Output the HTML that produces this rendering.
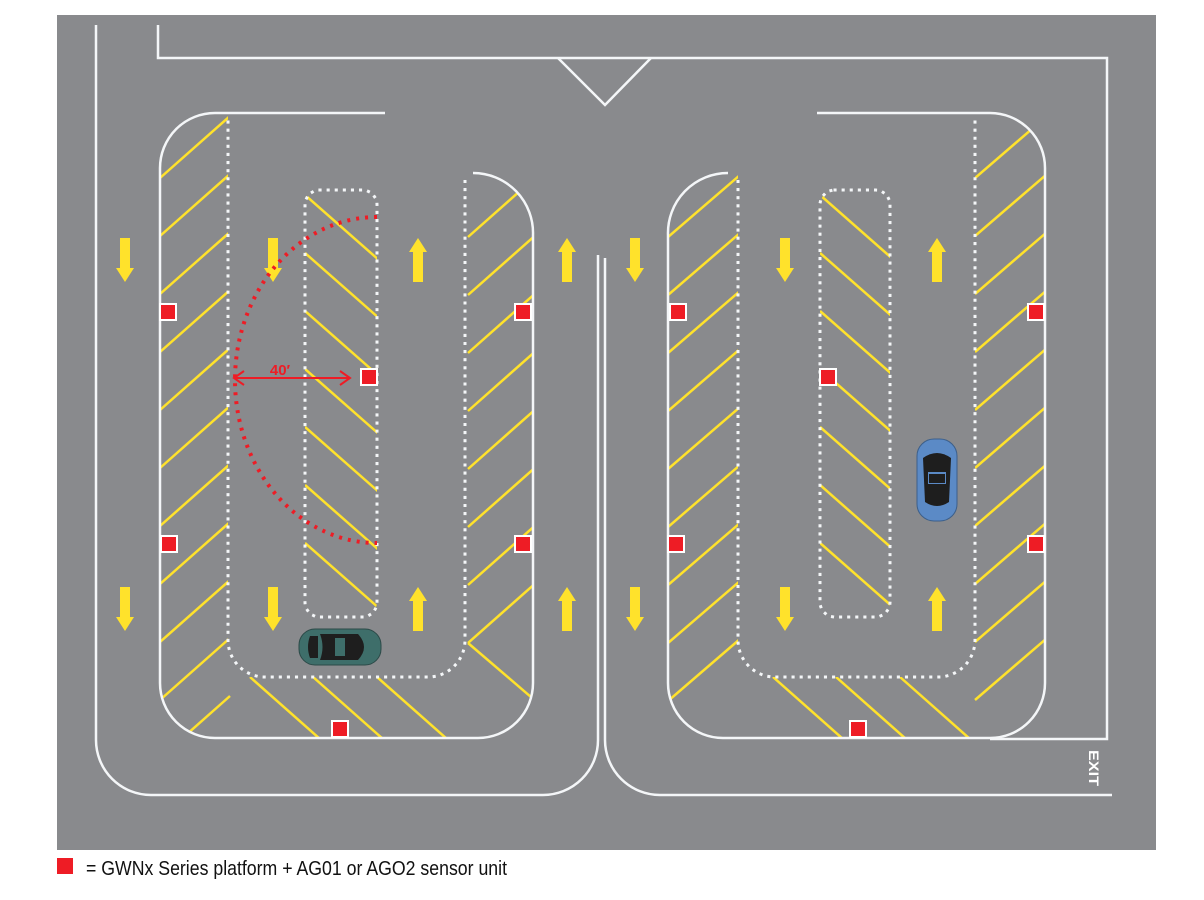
<!DOCTYPE html>
<html><head><meta charset="utf-8"><style>
html,body{margin:0;padding:0;background:#fff;width:1204px;height:900px;overflow:hidden}
</style></head><body>
<svg width="1204" height="900" viewBox="0 0 1204 900" xmlns="http://www.w3.org/2000/svg">
<defs>
<clipPath id="cL"><path d="M160,115 H228 V738 H160 Z M228,677 H533 V738 H228 Z M465,170 H533 V738 H465 Z"/></clipPath>
<clipPath id="cR"><path d="M668,170 H738 V738 H668 Z M738,677 H1045 V738 H738 Z M975,115 H1045 V738 H975 Z"/></clipPath>
<clipPath id="bL"><path d="M215,113 H385 V173 H473 A60,60 0 0 1 533,235 V683 A55,55 0 0 1 478,738 H215 A55,55 0 0 1 160,683 V168 A55,55 0 0 1 215,113 Z"/></clipPath>
<clipPath id="bR"><path d="M817,113 H990 A55,55 0 0 1 1045,168 V683 A55,55 0 0 1 990,738 H723 A55,55 0 0 1 668,683 V235 A60,60 0 0 1 728,173 H817 Z"/></clipPath>
<clipPath id="iL"><rect x="305" y="190" width="72" height="427" rx="15"/></clipPath>
<clipPath id="iR"><rect x="820" y="190" width="70" height="427" rx="15"/></clipPath>
<g id="arD"><path d="M-5,0 H5 V30 H9 L0,44 L-9,30 H-5 Z" fill="#ffe22b"/></g>
<g id="arU"><path d="M-5,44 H5 V14 H9 L0,0 L-9,14 H-5 Z" fill="#ffe22b"/></g>
<g id="sen"><rect x="-9" y="-9" width="18" height="18" fill="#fff"/><rect x="-7" y="-7" width="14" height="14" fill="#ee1c25"/></g>
</defs>
<rect x="57" y="15" width="1099" height="835" fill="#898a8d"/>

<!-- yellow stripes -->
<g stroke="#ffe22b" stroke-width="2.5">
<g clip-path="url(#bL)"><g clip-path="url(#cL)">
<path d="M160,178 l70,-62 M160,236 l70,-62 M160,294 l70,-62 M160,352 l70,-62 M160,410 l70,-62 M160,468 l70,-62 M160,526 l70,-62 M160,584 l70,-62 M160,642 l70,-62 M160,700 l70,-62 M160,758 l70,-62"/>
<path d="M468,237 l70,-62 M468,295 l70,-62 M468,353 l70,-62 M468,411 l70,-62 M468,469 l70,-62 M468,527 l70,-62 M468,585 l70,-62 M468,643 l70,-62"/>
<path d="M468,643 l70,60 M250,677 l70,62 M313,677 l70,62 M377,677 l70,62"/>
</g></g>
<g clip-path="url(#iL)">
<path d="M305,195 l75,66 M305,253 l75,66 M305,311 l75,66 M305,369 l75,66 M305,427 l75,66 M305,485 l75,66 M305,543 l75,66"/>
</g>
<g clip-path="url(#bR)"><g clip-path="url(#cR)">
<path d="M668,237 l72,-62 M668,295 l72,-62 M668,353 l72,-62 M668,411 l72,-62 M668,469 l72,-62 M668,527 l72,-62 M668,585 l72,-62 M668,643 l72,-62 M668,701 l72,-62"/>
<path d="M975,178 l72,-62 M975,236 l72,-62 M975,294 l72,-62 M975,352 l72,-62 M975,410 l72,-62 M975,468 l72,-62 M975,526 l72,-62 M975,584 l72,-62 M975,642 l72,-62 M975,700 l72,-62"/>
<path d="M773,677 l70,62 M836,677 l70,62 M900,677 l70,62"/>
</g></g>
<g clip-path="url(#iR)">
<path d="M820,195 l75,66 M820,253 l75,66 M820,311 l75,66 M820,369 l75,66 M820,427 l75,66 M820,485 l75,66 M820,543 l75,66"/>
</g>
</g>

<!-- white lines -->
<g fill="none" stroke="#f4f6f8" stroke-width="2.5">
<path d="M96,25 V740 A55,55 0 0 0 151,795 H543 A55,55 0 0 0 598,740 V255"/>
<path d="M158,25 V58 H1107 V739 H990"/>
<path d="M558,58 L605,105 L651,58"/>
<path d="M605,258 V740 A55,55 0 0 0 660,795 H1112"/>
<path d="M385,113 H215 A55,55 0 0 0 160,168 V683 A55,55 0 0 0 215,738 H478 A55,55 0 0 0 533,683 V235 A60,60 0 0 0 473,173"/>
<path d="M817,113 H990 A55,55 0 0 1 1045,168 V683 A55,55 0 0 1 990,738 H723 A55,55 0 0 1 668,683 V235 A60,60 0 0 1 728,173"/>
</g>
<g fill="none" stroke="#f4f6f8" stroke-width="3" stroke-dasharray="0.1 8" stroke-linecap="square">
<path d="M228,122 V640 A37,37 0 0 0 265,677 H428 A37,37 0 0 0 465,640 V175"/>
<rect x="305" y="190" width="72" height="427" rx="15"/>
<path d="M975,122 V640 A37,37 0 0 1 938,677 H775 A37,37 0 0 1 738,640 V175"/>
<rect x="820" y="190" width="70" height="427" rx="15"/>
</g>

<!-- arrows -->
<use href="#arD" x="125" y="238"/><use href="#arD" x="125" y="587"/>
<use href="#arD" x="273" y="238"/><use href="#arD" x="273" y="587"/>
<use href="#arU" x="418" y="238"/><use href="#arU" x="418" y="587"/>
<use href="#arU" x="567" y="238"/><use href="#arU" x="567" y="587"/>
<use href="#arD" x="635" y="238"/><use href="#arD" x="635" y="587"/>
<use href="#arD" x="785" y="238"/><use href="#arD" x="785" y="587"/>
<use href="#arU" x="937" y="238"/><use href="#arU" x="937" y="587"/>

<!-- red range -->
<path d="M377,217 A142,163 0 0 0 377,543" fill="none" stroke="#ee1c25" stroke-width="4" stroke-dasharray="3 6"/>
<g stroke="#ee1c25" stroke-width="2" fill="none">
<path d="M234,378 H350 M244,371 L234,378 L244,385 M340,371 L350,378 L340,385"/>
</g>
<text x="280" y="375" font-family="Liberation Sans, sans-serif" font-weight="bold" font-size="15" fill="#ee1c25" text-anchor="middle">40′</text>

<!-- sensors -->
<use href="#sen" x="168" y="312"/><use href="#sen" x="523" y="312"/><use href="#sen" x="369" y="377"/>
<use href="#sen" x="169" y="544"/><use href="#sen" x="523" y="544"/><use href="#sen" x="340" y="729"/>
<use href="#sen" x="678" y="312"/><use href="#sen" x="1036" y="312"/><use href="#sen" x="828" y="377"/>
<use href="#sen" x="676" y="544"/><use href="#sen" x="1036" y="544"/><use href="#sen" x="858" y="729"/>

<!-- green car -->
<g transform="translate(340,647)">
<rect x="-41" y="-18" width="82" height="36" rx="16" fill="#3e6e6a" stroke="#2c4a48" stroke-width="1"/>
<path d="M-30,-11 Q-34,0 -30,11 L-22,11 L-22,-11 Z" fill="#1e1e1e"/>
<path d="M-20,-13 H18 Q30,0 18,13 H-20 Q-15,0 -20,-13 Z" fill="#1e1e1e"/>
<rect x="-5" y="-9" width="10" height="18" fill="#3e6e6a"/>
</g>
<!-- blue car -->
<g transform="translate(937,480)">
<rect x="-20" y="-41" width="40" height="82" rx="17" fill="#5b8ac6" stroke="#3c5f8a" stroke-width="1"/>
<path d="M-14,-22 Q0,-32 14,-22 L12,22 Q0,30 -12,22 Z" fill="#1e1e1e"/>
<rect x="-9" y="-8" width="18" height="12" fill="#5b8ac6"/>
<rect x="-8" y="-6" width="16" height="9" fill="#1e1e1e"/>
</g>

<text transform="translate(1089,750) rotate(90)" font-family="Liberation Sans, sans-serif" font-weight="bold" font-size="14" fill="#fff" textLength="36" lengthAdjust="spacingAndGlyphs">EXIT</text>

<!-- legend -->
<rect x="57" y="858" width="16" height="16" fill="#ee1c25"/>
<text x="86" y="875" font-family="Liberation Sans Narrow, Liberation Sans, sans-serif" font-size="20" fill="#111" textLength="421" lengthAdjust="spacingAndGlyphs">= GWNx Series platform + AG01 or AGO2 sensor unit</text>
</svg>
</body></html>
